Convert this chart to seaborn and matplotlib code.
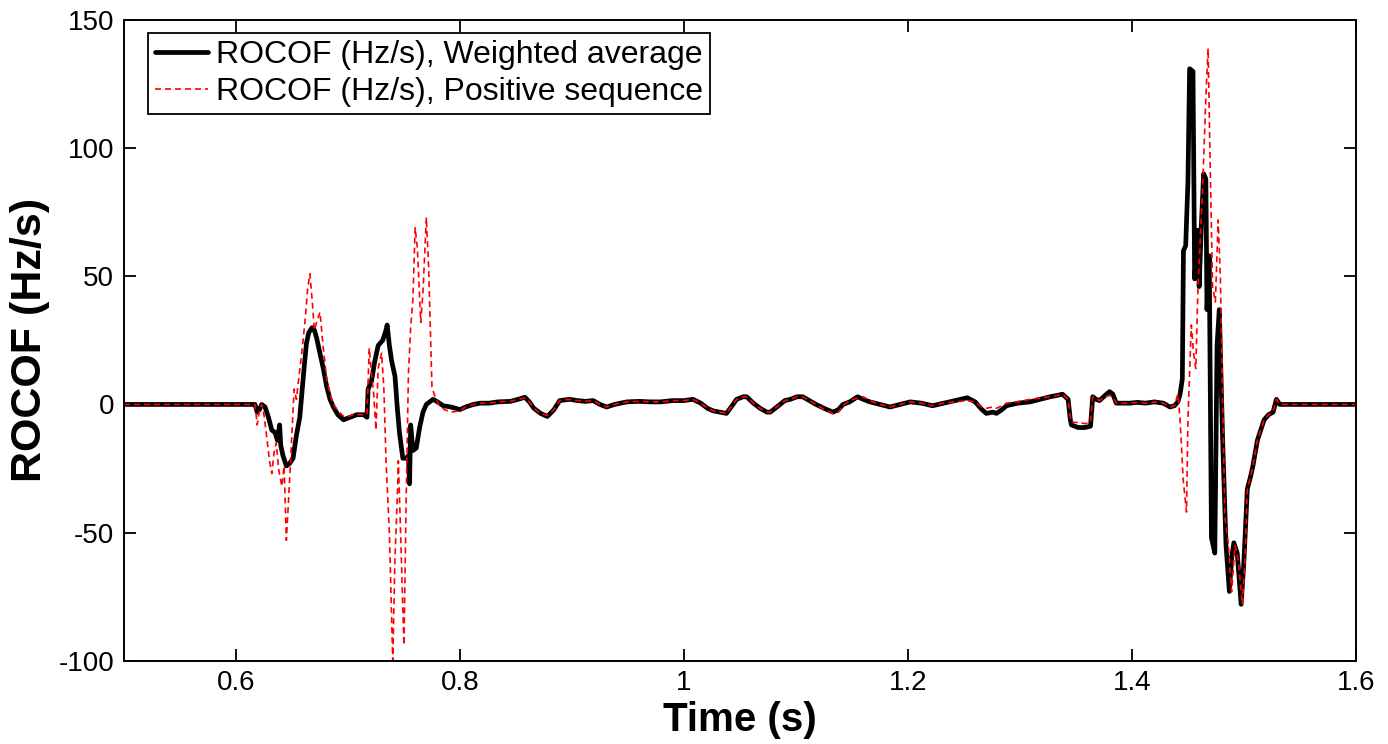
import matplotlib
matplotlib.use("Agg")
import matplotlib.pyplot as plt
import seaborn as sns
import pandas as pd

# ---- data ----
t_weighted = [0.500, 0.617, 0.619, 0.621, 0.623, 0.626, 0.629, 0.632, 0.635, 0.637, 0.639, 0.640,
              0.642, 0.645, 0.648, 0.651, 0.654, 0.657, 0.659, 0.661, 0.663, 0.665, 0.668, 0.670,
              0.672, 0.675, 0.678, 0.681, 0.684, 0.687, 0.691, 0.696, 0.702, 0.708, 0.714, 0.717,
              0.718, 0.721, 0.724, 0.727, 0.731, 0.734, 0.735, 0.737, 0.739, 0.742, 0.744, 0.746,
              0.749, 0.752, 0.754, 0.755, 0.756, 0.758, 0.761, 0.764, 0.767, 0.770, 0.773, 0.776,
              0.780, 0.785, 0.792, 0.800, 0.805, 0.812, 0.818, 0.826, 0.834, 0.845, 0.852, 0.858,
              0.862, 0.866, 0.872, 0.878, 0.884, 0.889, 0.898, 0.905, 0.912, 0.919, 0.925, 0.931,
              0.938, 0.949, 0.960, 0.970, 0.979, 0.990, 1.000, 1.008, 1.015, 1.021, 1.026, 1.032,
              1.038, 1.043, 1.047, 1.053, 1.056, 1.062, 1.068, 1.074, 1.077, 1.083, 1.090, 1.095,
              1.101, 1.106, 1.112, 1.118, 1.125, 1.133, 1.138, 1.142, 1.148, 1.155, 1.160, 1.166,
              1.175, 1.184, 1.193, 1.202, 1.212, 1.222, 1.232, 1.242, 1.253, 1.260, 1.266, 1.270,
              1.276, 1.279, 1.284, 1.288, 1.298, 1.309, 1.318, 1.327, 1.333, 1.338, 1.343, 1.345,
              1.346, 1.352, 1.358, 1.363, 1.365, 1.368, 1.371, 1.376, 1.380, 1.383, 1.386, 1.392,
              1.398, 1.405, 1.412, 1.420, 1.428, 1.434, 1.438, 1.441, 1.443, 1.445, 1.446, 1.448,
              1.450, 1.4515, 1.4545, 1.456, 1.458, 1.459, 1.460, 1.462, 1.464, 1.466, 1.467, 1.469,
              1.471, 1.474, 1.476, 1.478, 1.481, 1.484, 1.487, 1.489, 1.491, 1.494, 1.4975, 1.500,
              1.503, 1.506, 1.508, 1.512, 1.515, 1.518, 1.522, 1.526, 1.529, 1.532, 1.600]
rocof_weighted = [0, 0, -3, -2, 0, -1, -5, -10, -11, -14, -8, -16,
                  -20, -24, -23, -21, -12, -5, 5, 15, 24, 28, 30, 29,
                  26, 20, 14, 7, 2, -1, -4, -6, -5, -4, -4, -5,
                  6, 9, 17, 23, 25, 29, 31, 23, 17, 11, -1, -11,
                  -21, -21, -20, -31, -8, -18, -17, -9, -3, 0, 1, 2,
                  1, -0.5, -1, -2, -1, 0, 0.5, 0.5, 1, 1.2, 2, 2.8,
                  1, -1.5, -3.5, -4.7, -2, 1.5, 2, 1.5, 1.2, 1.5, 0, -1,
                  0, 1, 1.2, 1, 1, 1.5, 1.5, 2, 0.5, -1.5, -2.5, -3,
                  -3.5, -0.5, 2, 3, 3, 0.5, -1.5, -3, -3, -1, 1.5, 2,
                  3, 3, 1.5, 0, -1.5, -3, -2, 0, 1, 3, 2, 1,
                  0, -1, 0, 1, 0.5, -0.5, 0.5, 1.5, 2.6, 1, -2, -3.5,
                  -3, -3.5, -2, -0.5, 0.5, 1, 2, 3, 3.5, 4, 2, -6,
                  -8, -9, -9, -8.5, 3, 2, 1.5, 3.5, 5, 4, 0.5, 0.5,
                  0.5, 0.8, 0.5, 1, 0.5, -1, -0.5, 1, 4, 10, 60, 62,
                  87, 131, 130, 49, 62, 68, 46, 70, 90, 88, 37, 58,
                  -52, -58, 23, 37, -14, -55, -73, -60, -54, -58, -78, -61,
                  -33, -28, -24, -14, -10, -6, -4, -3, 2, 0, 0]

t_positive = [0.500, 0.617, 0.619, 0.621, 0.623, 0.625, 0.627, 0.630, 0.632, 0.634, 0.636, 0.638,
              0.641, 0.643, 0.645, 0.647, 0.649, 0.651, 0.652, 0.654, 0.656, 0.659, 0.662, 0.664,
              0.666, 0.668, 0.670, 0.672, 0.675, 0.678, 0.681, 0.684, 0.687, 0.692, 0.697, 0.705,
              0.712, 0.717, 0.719, 0.721, 0.723, 0.725, 0.727, 0.730, 0.732, 0.734, 0.737, 0.740,
              0.742, 0.744, 0.745, 0.747, 0.750, 0.752, 0.754, 0.756, 0.758, 0.760, 0.762, 0.765,
              0.767, 0.770, 0.772, 0.775, 0.777, 0.781, 0.786, 0.792, 0.800, 0.805, 0.812, 0.818,
              0.826, 0.834, 0.845, 0.852, 0.858, 0.862, 0.866, 0.872, 0.878, 0.884, 0.889, 0.898,
              0.905, 0.912, 0.919, 0.925, 0.931, 0.938, 0.949, 0.960, 0.970, 0.979, 0.990, 1.000,
              1.008, 1.015, 1.021, 1.026, 1.032, 1.038, 1.043, 1.047, 1.053, 1.056, 1.062, 1.068,
              1.074, 1.077, 1.083, 1.090, 1.095, 1.101, 1.106, 1.112, 1.118, 1.125, 1.133, 1.138,
              1.142, 1.148, 1.155, 1.160, 1.166, 1.175, 1.184, 1.193, 1.202, 1.212, 1.222, 1.232,
              1.242, 1.253, 1.260, 1.266, 1.270, 1.276, 1.279, 1.284, 1.288, 1.298, 1.309, 1.318,
              1.327, 1.333, 1.338, 1.343, 1.345, 1.346, 1.352, 1.358, 1.363, 1.365, 1.368, 1.371,
              1.376, 1.380, 1.383, 1.386, 1.392, 1.398, 1.405, 1.412, 1.420, 1.428, 1.434, 1.438,
              1.441, 1.443, 1.4457, 1.4487, 1.450, 1.453, 1.455, 1.457, 1.459, 1.463, 1.466, 1.468,
              1.470, 1.472, 1.4745, 1.477, 1.479, 1.481, 1.483, 1.486, 1.489, 1.492, 1.495, 1.4986,
              1.501, 1.503, 1.506, 1.508, 1.512, 1.515, 1.518, 1.522, 1.526, 1.529, 1.532, 1.600]
rocof_positive = [0, 0, -8, -2, 0, -4, -11, -22, -27, -19, -15, -25,
                  -32, -24, -53, -37, -20, -2, 6, 2, 10, 21, 34, 45,
                  51, 41, 29, 32, 36, 22, 10, 4, 0, -3, -5, -4,
                  -4, -4, 22, 12, 4, -10, 14, 20, 7, -22, -50, -100,
                  -60, -37, -22, -50, -94, -37, 12, 30, 41, 69, 61, 32,
                  44, 73, 54, 7, 4, 0, -2, -3, -2.5, -1, 0, 0.5,
                  0.5, 1, 1.2, 2, 2.5, 1, -1.5, -3.5, -4.3, -2, 1.5, 2,
                  1.5, 1.2, 1.5, 0, -1, 0, 1, 1.2, 1, 1, 1.5, 1.5,
                  2, 0.5, -1.5, -2.5, -3, -3.5, -0.5, 2, 3, 3, 0.5, -1.5,
                  -3, -3, -1, 1.5, 2, 3, 3, 1.5, 0, -2, -3.5, -3,
                  -0.5, 1.5, 2.5, 3, 1.5, 0, -1, 0, 1, 0.5, -0.5, 0.5,
                  1, 1.5, 1, -1, -1.5, -1, -1.5, -0.5, 0.5, 1, 2, 2.5,
                  3, 3.5, 4, 2, -5, -7, -7, -7.5, -7, 3, 2, 1.5,
                  3, 3.5, 3, 0.5, 0.5, 0.5, 0.8, 0.5, 1, 0.5, -1, -0.5,
                  4, -6, -29, -42, -6, 31, 20, 14, 46, 83, 120, 139,
                  90, 46, 40, 72, 49, 1, -44, -54, -73, -55, -61, -78,
                  -60, -33, -28, -24, -14, -10, -6, -4, -3, 2, 0, 0]

label_weighted = "ROCOF (Hz/s), Weighted average"
label_positive = "ROCOF (Hz/s), Positive sequence"
x_ticks = [0.6, 0.8, 1.0, 1.2, 1.4, 1.6]
x_tick_labels = ["0.6", "0.8", "1", "1.2", "1.4", "1.6"]
y_ticks = [-100, -50, 0, 50, 100, 150]

df_w = pd.DataFrame({"t": t_weighted, "v": rocof_weighted})
df_p = pd.DataFrame({"t": t_positive, "v": rocof_positive})

sns.set_theme(style="ticks")
plt.rcParams["font.family"] = ["Liberation Sans", "DejaVu Sans"]
plt.rcParams.update({
    "axes.unicode_minus": False,
    "xtick.direction": "in", "ytick.direction": "in",
    "xtick.top": True, "ytick.right": True,
    "xtick.major.size": 8.6, "ytick.major.size": 8.6,
    "xtick.major.width": 1.3, "ytick.major.width": 1.3,
    "axes.linewidth": 1.4, "axes.edgecolor": "black",
    "xtick.color": "black", "ytick.color": "black",
    "text.color": "black", "axes.labelcolor": "black",
})

fig = plt.figure(figsize=(13.88, 7.44), dpi=100)
ax = fig.add_axes([0.0893, 0.112, 0.8876, 0.861])

sns.lineplot(data=df_w, x="t", y="v", ax=ax, color="black", linewidth=3.4,
             label=label_weighted, sort=False, estimator=None)
sns.lineplot(data=df_p, x="t", y="v", ax=ax, color="#ff0000", linewidth=1.2,
             label=label_positive, sort=False, estimator=None)
ax.lines[1].set_dashes((3.6, 2.4))

ax.set_xlim(0.5, 1.6)
ax.set_ylim(-100, 150)
ax.set_xticks(x_ticks)
ax.set_xticklabels(x_tick_labels)
ax.set_yticks(y_ticks)
ax.tick_params(labelsize=20, pad=7)
ax.set_xlabel("Time (s)", fontsize=29, fontweight="bold", labelpad=3)
ax.set_ylabel("ROCOF (Hz/s)", fontsize=31, fontweight="bold", labelpad=6)

leg = ax.legend(loc="upper left", bbox_to_anchor=(0.0195, 0.98), fontsize=23,
                frameon=True, fancybox=False, framealpha=1, edgecolor="black",
                handlelength=1.65, handletextpad=0.25, borderpad=0.22, labelspacing=0.22,
                borderaxespad=0)
leg.get_frame().set_linewidth(1.3)
leg.get_lines()[1].set_dashes((3.6, 2.4))

fig.savefig("out.png", dpi=100)
